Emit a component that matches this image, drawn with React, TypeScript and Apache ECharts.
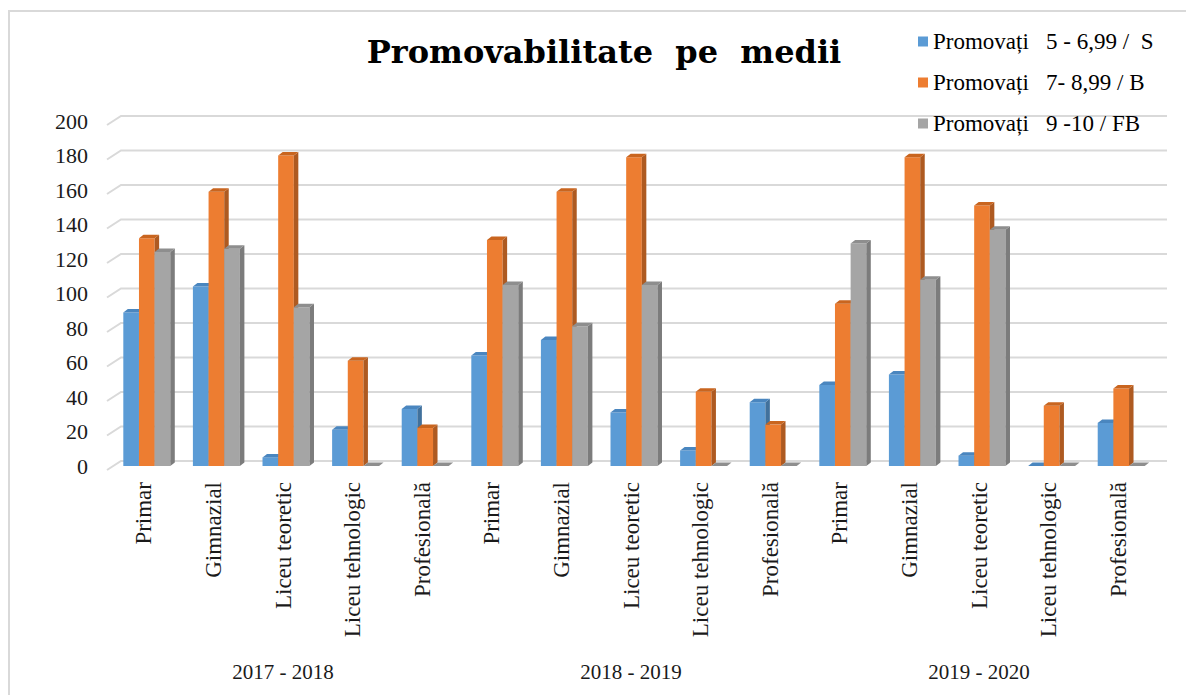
import React, { useEffect, useRef } from "react";
import * as echarts from "echarts";

const categories = [
  "Primar", "Gimnazial", "Liceu teoretic", "Liceu tehnologic", "Profesională",
  "Primar", "Gimnazial", "Liceu teoretic", "Liceu tehnologic", "Profesională",
  "Primar", "Gimnazial", "Liceu teoretic", "Liceu tehnologic", "Profesională",
];
const years = ["2017 - 2018", "2018 - 2019", "2019 - 2020"];
const seriesNames = [
  "Promovați   5 - 6,99 /  S",
  "Promovați   7- 8,99 / B",
  "Promovați   9 -10 / FB",
];
const valuesS = [89, 104, 5, 21, 33, 64, 73, 31, 9, 37, 47, 53, 6, 0, 25];
const valuesB = [132, 159, 180, 61, 22, 131, 159, 179, 43, 24, 94, 179, 151, 35, 45];
const valuesFB = [124, 126, 92, 0, 0, 105, 81, 105, 0, 0, 129, 108, 137, 0, 0];
const yTicks = [0, 20, 40, 60, 80, 100, 120, 140, 160, 180, 200];

const frontColors = ["#5b9bd5", "#ed7d31", "#a5a5a5"];
const sideColors = ["#41719c", "#ae5a21", "#7c7c7c"];
const topColors = ["#4a86bf", "#c9651f", "#8e8e8e"];

const FONT = "Liberation Serif";

function barSeries(idx: number, values: number[]) {
  return {
    type: "custom",
    name: seriesNames[idx],
    coordinateSystem: "cartesian2d",
    xAxisIndex: 0,
    yAxisIndex: 0,
    clip: false,
    z: 2 + idx,
    itemStyle: { color: frontColors[idx] },
    encode: { x: 0, y: 1 },
    data: values.map((v, i) => [i, v]),
    renderItem: (params: any, api: any) => {
      const cat = api.value(0);
      const val = api.value(1);
      const base = api.coord([cat, 0]);
      const top = api.coord([cat, val]);
      const cw = api.size([1, 0])[0];
      const bw = cw * 0.225;
      const dx = 4.5;
      const dy = 3.5;
      const x0 = base[0] - 1.5 * bw + idx * bw + 3;
      const x1 = x0 + bw;
      const yb = base[1];
      const yt = top[1];
      const children: any[] = [];
      if (yb - yt > 0.1) {
        children.push({
          type: "rect",
          shape: { x: x0, y: yt, width: bw, height: yb - yt },
          style: { fill: frontColors[idx] },
        });
        children.push({
          type: "polygon",
          shape: { points: [[x1, yt], [x1 + dx, yt - dy], [x1 + dx, yb - dy], [x1, yb]] },
          style: { fill: sideColors[idx] },
        });
      }
      children.push({
        type: "polygon",
        shape: { points: [[x0, yt], [x0 + dx, yt - dy], [x1 + dx, yt - dy], [x1, yt]] },
        style: { fill: topColors[idx] },
      });
      return { type: "group", children };
    },
  };
}

export default function App() {
  const ref = useRef<HTMLDivElement>(null);
  useEffect(() => {
    if (!ref.current) return;
    const chart = echarts.init(ref.current, null, { renderer: "svg" });
    const option: any = {
      animation: false,
      backgroundColor: "#ffffff",
      title: {
        text: "Promovabilitate  pe  medii",
        left: 599,
        top: 31,
        textAlign: "center",
        textStyle: {
          fontFamily: "DejaVu Serif",
          fontWeight: "bold",
          fontSize: 32,
          color: "#000000",
        },
      },
      legend: {
        data: seriesNames,
        orient: "vertical",
        left: 913,
        top: 25,
        icon: "rect",
        itemWidth: 10,
        itemHeight: 10,
        itemGap: 18,
        textStyle: { fontFamily: FONT, fontSize: 23, color: "#000000", lineHeight: 23 },
      },
      graphic: [
        {
          type: "rect",
          shape: { x: 9, y: 11, width: 1300, height: 800 },
          style: { fill: "none", stroke: "#d9d9d9", lineWidth: 2 },
          silent: true,
        },
      ],
      grid: { left: 109, right: 33, top: 121, bottom: 229, containLabel: false },
      xAxis: [
        {
          type: "category",
          data: categories,
          axisLine: { show: false },
          axisTick: { show: false },
          splitLine: { show: false },
          axisLabel: {
            rotate: 90,
            interval: 0,
            margin: 16,
            fontSize: 23,
            fontFamily: FONT,
            color: "#1a1a1a",
          },
        },
        {
          type: "category",
          data: years,
          position: "bottom",
          offset: 190,
          axisLine: { show: false },
          axisTick: { show: false },
          splitLine: { show: false },
          axisLabel: {
            interval: 0,
            margin: 5,
            fontSize: 21,
            fontFamily: FONT,
            color: "#1a1a1a",
          },
        },
      ],
      yAxis: {
        type: "value",
        min: 0,
        max: 200,
        interval: 20,
        axisLine: { show: false },
        axisTick: { show: false },
        splitLine: { show: false },
        axisLabel: { margin: 21, fontSize: 22, fontFamily: FONT, color: "#1a1a1a" },
      },
      series: [
        barSeries(0, valuesS),
        barSeries(1, valuesB),
        barSeries(2, valuesFB),
        {
          type: "custom",
          name: "grid",
          coordinateSystem: "cartesian2d",
          xAxisIndex: 0,
          yAxisIndex: 0,
          clip: false,
          silent: true,
          z: 1,
          encode: { x: 0, y: 1 },
          data: yTicks.map((v) => [0, v]),
          renderItem: (params: any, api: any) => {
            const cs = params.coordSys;
            const y = api.coord([0, api.value(1)])[1];
            return {
              type: "polyline",
              shape: {
                points: [
                  [cs.x - 2, y + 4],
                  [cs.x + 12, y - 5],
                  [cs.x + cs.width + 14, y - 5],
                ],
              },
              style: { stroke: "#d9d9d9", lineWidth: 2, fill: "none" },
            };
          },
        },
      ],
    };
    chart.setOption(option);
    return () => chart.dispose();
  }, []);
  return (
    <div
      ref={ref}
      style={{ position: "fixed", left: 0, top: 0, width: 1186, height: 695 }}
    />
  );
}
